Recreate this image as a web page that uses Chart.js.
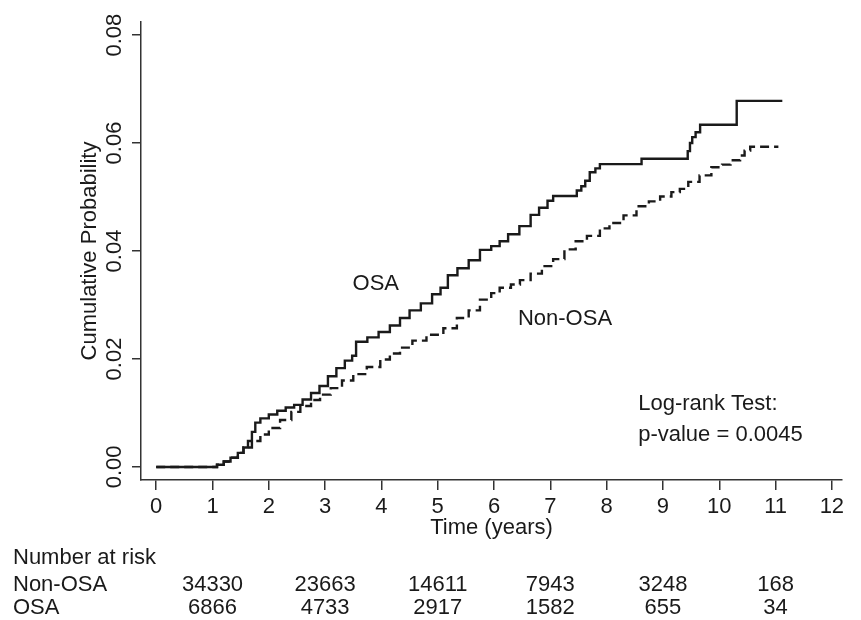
<!DOCTYPE html>
<html>
<head>
<meta charset="utf-8">
<script src="https://cdn.jsdelivr.net/npm/chart.js@4.4.1/dist/chart.umd.min.js"></script>
<style>
  html, body { margin: 0; padding: 0; background: #fff; }
  #wrap { width: 861px; height: 620px; }
</style>
</head>
<body>
<div id="wrap"><canvas id="kmChart" width="861" height="620"></canvas></div>
<script>
// Cumulative incidence (time in years)
const osaTime = [0, 1.0, 1.08, 1.2, 1.32, 1.45, 1.55, 1.63, 1.7, 1.76, 1.85, 2.0, 2.15, 2.3, 2.45, 2.6, 2.75, 2.9,
  3.05, 3.2, 3.35, 3.48, 3.55, 3.75, 3.95, 4.15, 4.33, 4.5, 4.7, 4.9, 5.05, 5.18, 5.35, 5.55, 5.75, 5.95, 6.1,
  6.25, 6.45, 6.65, 6.8, 6.95, 7.05, 7.47, 7.55, 7.62, 7.7, 7.8, 7.88, 8.62, 9.44, 9.48, 9.52, 9.58, 9.66, 10.31, 11.12];
const osaProb = [0, 0, 0.0004, 0.0010, 0.0017, 0.0026, 0.0036, 0.0048, 0.0065, 0.0082, 0.0090, 0.0097, 0.0104,
  0.0110, 0.0115, 0.0125, 0.0137, 0.0150, 0.0168, 0.0183, 0.0197, 0.0206, 0.0232, 0.0240, 0.0250, 0.0262, 0.0276,
  0.0290, 0.0303, 0.0320, 0.0332, 0.0355, 0.0368, 0.0383, 0.0402, 0.0409, 0.0418, 0.0431, 0.0446, 0.0467, 0.0480,
  0.0493, 0.0502, 0.0512, 0.0520, 0.0530, 0.0546, 0.0553, 0.0561, 0.0571, 0.0585, 0.0600, 0.0611, 0.0620, 0.0634,
  0.0678, 0.0678];

const nonTime = [0, 1.0, 1.08, 1.2, 1.32, 1.45, 1.55, 1.7, 1.85, 2.0, 2.2, 2.4, 2.56, 2.75, 2.91, 3.1, 3.3, 3.5,
  3.74, 3.98, 4.15, 4.33, 4.55, 4.8, 5.1, 5.34, 5.55, 5.75, 5.95, 6.1, 6.3, 6.46, 6.65, 6.85, 7.05, 7.25, 7.45,
  7.65, 7.88, 8.05, 8.3, 8.53, 8.75, 8.95, 9.15, 9.3, 9.45, 9.65, 9.86, 10.05, 10.2, 10.37, 10.45, 10.55, 11.05];
const nonProb = [0, 0, 0.0004, 0.0010, 0.0017, 0.0026, 0.0036, 0.0048, 0.0060, 0.0072, 0.0087, 0.0102, 0.0113,
  0.0124, 0.0134, 0.0146, 0.0160, 0.0172, 0.0185, 0.0199, 0.0210, 0.0221, 0.0234, 0.0245, 0.0257, 0.0276, 0.0290,
  0.0310, 0.0322, 0.0332, 0.0338, 0.0346, 0.0358, 0.0372, 0.0385, 0.0403, 0.0418, 0.0428, 0.0442, 0.0452, 0.0466,
  0.0483, 0.0492, 0.0501, 0.0509, 0.0515, 0.0528, 0.0540, 0.0555, 0.0560, 0.0568, 0.0577, 0.0586, 0.0593, 0.0593];

const xTicks = [0, 1, 2, 3, 4, 5, 6, 7, 8, 9, 10, 11, 12];
const yTicks = [0, 0.02, 0.04, 0.06, 0.08];

// Number at risk table
const riskTimes = [1, 3, 5, 7, 9, 11];
const riskNonOSA = [34330, 23663, 14611, 7943, 3248, 168];
const riskOSA = [6866, 4733, 2917, 1582, 655, 34];

const FONT = "'Liberation Sans', Arial, sans-serif";
const INK = '#1a1a1a';

function pts(ts, ps) {
  return ts.map((t, i) => ({ x: t, y: ps[i] }));
}

// Draws rotated y tick labels, curve labels, test note and risk table
const annotations = {
  id: 'annotations',
  afterDraw(chart) {
    const { ctx, scales: { x, y } } = chart;
    ctx.save();
    ctx.fillStyle = INK;
    ctx.font = '22px ' + FONT;
    ctx.textBaseline = 'middle';

    // y tick labels, rotated like the original
    ctx.textAlign = 'center';
    yTicks.forEach(v => {
      ctx.save();
      ctx.translate(115, y.getPixelForValue(v));
      ctx.rotate(-Math.PI / 2);
      ctx.fillText(v.toFixed(2), 0, 0);
      ctx.restore();
    });

    // curve labels
    ctx.fillText('OSA', x.getPixelForValue(3.9), y.getPixelForValue(0.0339));
    ctx.fillText('Non-OSA', x.getPixelForValue(7.26), y.getPixelForValue(0.0275));

    ctx.textAlign = 'left';
    ctx.fillText('Log-rank Test:', x.getPixelForValue(8.56), y.getPixelForValue(0.0117));
    ctx.fillText('p-value = 0.0045', x.getPixelForValue(8.56), y.getPixelForValue(0.0060));

    // number at risk
    ctx.fillText('Number at risk', 13, 558);
    ctx.fillText('Non-OSA', 13, 585);
    ctx.fillText('OSA', 13, 608);
    ctx.textAlign = 'center';
    riskTimes.forEach((t, i) => {
      const px = x.getPixelForValue(t);
      ctx.fillText(String(riskNonOSA[i]), px, 585);
      ctx.fillText(String(riskOSA[i]), px, 608);
    });
    ctx.restore();
  }
};

new Chart(document.getElementById('kmChart'), {
  type: 'line',
  data: {
    datasets: [
      {
        label: 'OSA',
        data: pts(osaTime, osaProb),
        stepped: true,
        borderColor: INK,
        borderWidth: 2.4,
        pointRadius: 0,
        fill: false
      },
      {
        label: 'Non-OSA',
        data: pts(nonTime, nonProb),
        stepped: true,
        borderColor: INK,
        borderWidth: 2.4,
        borderDash: [9, 5],
        pointRadius: 0,
        fill: false
      }
    ]
  },
  options: {
    responsive: false,
    animation: false,
    layout: { padding: { left: 0, right: 19, top: 22, bottom: 79 } },
    plugins: { legend: { display: false }, tooltip: { enabled: false } },
    scales: {
      x: {
        type: 'linear',
        min: -0.27,
        max: 12.18,
        afterBuildTicks: s => { s.ticks = xTicks.map(v => ({ value: v })); },
        afterFit: s => { s.height = 61; s.paddingLeft = 0; s.paddingRight = 0; },
        grid: { display: true, drawOnChartArea: false, drawTicks: true, tickLength: 10, color: '#333', lineWidth: 1.5 },
        border: { display: true, color: '#333', width: 1.5 },
        ticks: { color: INK, font: { family: FONT, size: 22 }, padding: 4, maxRotation: 0, autoSkip: false },
        title: { display: true, text: 'Time (years)', color: INK, font: { family: FONT, size: 22 }, padding: { top: 0, bottom: 0 } }
      },
      y: {
        min: -0.00242,
        max: 0.08242,
        afterBuildTicks: s => { s.ticks = yTicks.map(v => ({ value: v })); },
        afterFit: s => { s.width = 141; s.paddingTop = 0; s.paddingBottom = 0; },
        grid: { display: true, drawOnChartArea: false, drawTicks: true, tickLength: 9, color: '#333', lineWidth: 1.5 },
        border: { display: true, color: '#333', width: 1.5 },
        ticks: { display: false },
        title: { display: true, text: 'Cumulative Probability', color: INK, font: { family: FONT, size: 22 }, padding: { top: 77, bottom: 0 } }
      }
    }
  },
  plugins: [annotations]
});
</script>
</body>
</html>
